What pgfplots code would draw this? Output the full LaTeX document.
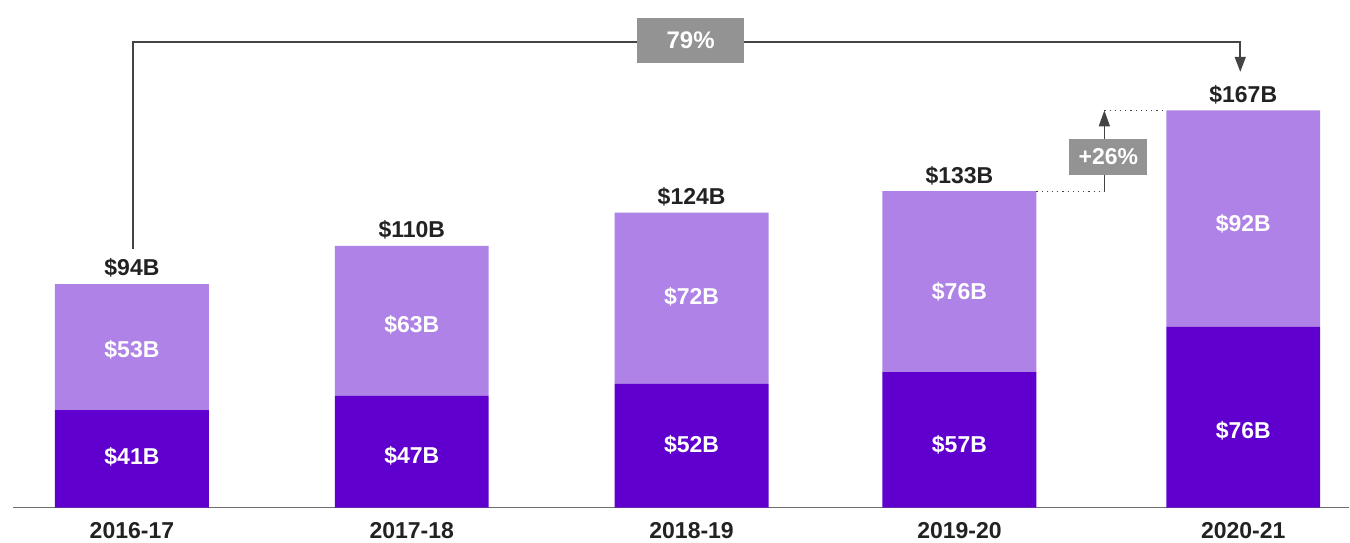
\documentclass[border=0pt]{standalone}
\usepackage{pgfplots}
\pgfplotsset{compat=1.18}
\usepackage{fontspec}
\setmainfont{Liberation Sans}
\usetikzlibrary{arrows.meta}
\definecolor{darkp}{HTML}{5F00CF}
\definecolor{lightp}{HTML}{AE82E6}
\definecolor{boxg}{HTML}{939393}
\definecolor{txt}{HTML}{222222}
\definecolor{brk}{HTML}{444444}
\definecolor{axg}{HTML}{6E6E6E}
\tikzset{lbl/.style={font=\fontsize{11.5}{13}\selectfont\bfseries}}
\begin{document}
\begin{tikzpicture}
\begin{axis}[
  x=0.5pt, y=1.19pt,
  xmin=13, xmax=1350, ymin=0, ymax=200,
  enlargelimits=false,
  clip=false,
  ybar stacked,
  bar width=77pt,
  axis x line=bottom, axis y line=none,
  axis line style={-, axg, line width=0.8pt},
  xtick={132,412,692,960,1244},
  xticklabels={2016-17,2017-18,2018-19,2019-20,2020-21},
  major tick length=0pt,
  xticklabel style={font=\fontsize{11.5}{13}\selectfont\bfseries, text=txt, inner sep=0pt, yshift=-7pt},
  ytick=\empty,
]
\addplot[fill=darkp, draw=none] coordinates {(132,41) (412,47) (692,52) (960,57) (1244,76)};
\addplot[fill=lightp, draw=none] coordinates {(132,53) (412,63) (692,72) (960,76) (1244,91)};

% segment label positions
\coordinate (d1) at (axis cs:132,21.4);
\coordinate (d2) at (axis cs:412,21.8);
\coordinate (d3) at (axis cs:692,26.5);
\coordinate (d4) at (axis cs:960,26.5);
\coordinate (d5) at (axis cs:1244,32.4);
\coordinate (l1) at (axis cs:132,66.4);
\coordinate (l2) at (axis cs:412,76.9);
\coordinate (l3) at (axis cs:692,88.7);
\coordinate (l4) at (axis cs:960,90.8);
\coordinate (l5) at (axis cs:1244,119.3);
\coordinate (t1) at (axis cs:132,94);
\coordinate (t2) at (axis cs:412,110);
\coordinate (t3) at (axis cs:692,124);
\coordinate (t4) at (axis cs:960,133);
\coordinate (t5) at (axis cs:1244,167);
% bracket
\coordinate (b1) at (axis cs:133,108.8);
\coordinate (b2) at (axis cs:133,195.8);
\coordinate (b3) at (axis cs:1241,195.8);
\coordinate (b4) at (axis cs:1241,183.2);
\coordinate (bx) at (axis cs:691,196.4);
% +26%
\coordinate (p1) at (axis cs:1037,133);
\coordinate (p2) at (axis cs:1105,133);
\coordinate (p3) at (axis cs:1105,167);
\coordinate (p4) at (axis cs:1167,167);
\coordinate (px) at (axis cs:1109,147.5);
% bounding box
\coordinate (bbA) at (axis cs:0,-14.7);
\coordinate (bbB) at (axis cs:1350,213.4);
\end{axis}

\path (bbA) rectangle (bbB);
\foreach \c/\t in {d1/41,d2/47,d3/52,d4/57,d5/76,l1/53,l2/63,l3/72,l4/76,l5/92}
  \node[lbl, text=white] at (\c) {\$\t B};
\foreach \c/\t in {t1/94,t2/110,t3/124,t4/133,t5/167}
  \node[lbl, text=txt, anchor=south, inner sep=0pt, yshift=3pt] at (\c) {\$\t B};

\draw[brk, line width=0.8pt, -{Triangle[length=7.5pt,width=5.5pt]}]
  (b1) -- (b2) -- (b3) -- (b4);
\node[fill=boxg, text=white, minimum width=53.5pt, minimum height=22.5pt, inner sep=0pt,
  font=\fontsize{12}{14}\selectfont\bfseries] at (bx) {79\%};

\draw[brk, line width=0.6pt, dotted] (p1) -- (p2);
\draw[brk, line width=0.6pt, dotted] (p3) -- (p4);
\draw[brk, line width=0.8pt, -{Triangle[length=8pt,width=5.5pt]}] (p2) -- (p3);
\node[fill=boxg, text=white, minimum width=39pt, minimum height=18pt, inner sep=0pt,
  font=\fontsize{11.5}{13}\selectfont\bfseries] at (px) {+26\%};
\end{tikzpicture}
\end{document}
